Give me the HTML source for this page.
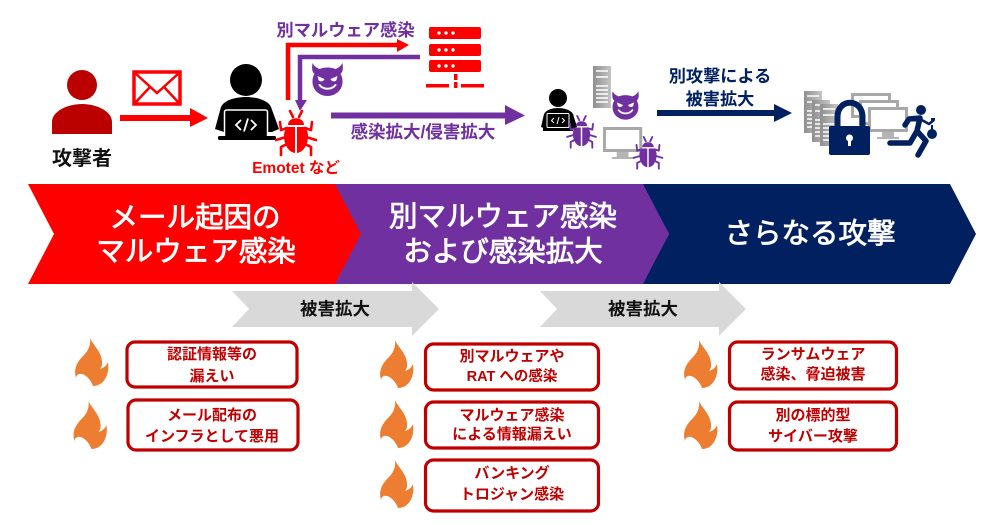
<!DOCTYPE html>
<html lang="ja"><head><meta charset="utf-8"><style>
html,body{margin:0;padding:0;background:#fff}
svg{display:block}
text{font-family:"Liberation Sans","Noto Sans CJK JP",sans-serif;font-weight:700;text-anchor:middle}
.ban text{font-weight:400;stroke:#fff;stroke-width:.8px}
</style></head><body>
<svg width="1000" height="525" viewBox="0 0 1000 525" xmlns="http://www.w3.org/2000/svg">
<defs>
<path id="flame" fill="#ed7d31" d="M15,0 C18,7 26,13 27,23 C27.500,27 26.500,29 25,31 C29,30 32,27 33,24 C35,36 29,48 18,48 C16,42 11,37 7,36 C4,35 1,37 1,40 C-2,30 3,23 9,17 C13,13 16,7 15,0Z"/>
<g id="bug">
<g fill="none" stroke="currentColor" stroke-width="2.600" stroke-linecap="round" stroke-linejoin="round">
<path d="M-6,-25 L-3,-19 M6,-25 L3,-19"/>
<path d="M-9,-8 L-15,-6 L-16,-14 M9,-8 L15,-6 L16,-14"/>
<path d="M-10,1 L-20,4 M10,1 L20,4"/>
<path d="M-9,8 L-15,11 L-15,19 M9,8 L15,11 L15,19"/>
</g>
<path fill="currentColor" d="M-8,-11 C-8,-20 8,-20 8,-11Z"/>
<path fill="currentColor" d="M-1,-9 L-1,17 C-8,16 -12,8 -12,0 C-12,-5 -10,-8 -8,-9Z M1,-9 L1,17 C8,16 12,8 12,0 C12,-5 10,-8 8,-9Z"/>
</g>
<g id="devil">
<path fill="#7030a0" d="M-15,-16 C-16,-9 -15,-7 -13,-5 C-15,-2 -15,1 -15,3 C-15,11 -8,17 0,17 C8,17 15,11 15,3 C15,1 15,-2 13,-5 C15,-7 16,-9 15,-16 C13,-12 10,-11 8,-10 C3,-12 -3,-12 -8,-10 C-10,-11 -13,-12 -15,-16Z"/>
<path fill="#fff" d="M-10,-3 L-3,0 C-4,3 -8,3 -9,1Z M10,-3 L3,0 C4,3 8,3 9,1Z"/>
<path fill="none" stroke="#fff" stroke-width="2" stroke-linecap="round" d="M-8,6 C-4,11 4,11 8,6"/>
</g>
<linearGradient id="g" x1="0" x2="1" y1="0" y2="0"><stop offset="0" stop-color="#8f8f8f"/><stop offset="1" stop-color="#c4c4c4"/></linearGradient>
<g id="tower">
<rect width="18" height="42" fill="url(#g)"/>
<path stroke="#fff" stroke-width="1.500" d="M3,5 H15 M3,11 H15 M3,20 H15 M3,24 H15 M3,28 H15 M3,32 H15 M3,36 H15"/>
</g>
<g id="mon">
<rect width="40" height="25" fill="#a8a8a8"/>
<rect x="3" y="3" width="34" height="19" fill="#fff"/>
<rect x="14" y="25" width="12" height="5" fill="#b5b5b5"/>
<rect x="9" y="30" width="22" height="2" fill="#b5b5b5"/>
</g>
</defs>

<!-- banner -->
<polygon fill="#ff0000" points="28,184 336,184 362,234 336,284 28,284 54,234"/>
<polygon fill="#7030a0" points="335,184 644,184 669,234 644,284 335,284 361,234"/>
<polygon fill="#002060" points="643,184 950,184 976,234 950,284 643,284 669,234"/>
<g class="ban" fill="#fff" font-size="28.500">
<text x="195" y="227">メール起因の</text>
<text x="196" y="261">マルウェア感染</text>
<text x="503" y="226">別マルウェア感染</text>
<text x="503" y="261">および感染拡大</text>
<text x="810" y="243">さらなる攻撃</text>
</g>

<!-- grey arrows -->
<polygon fill="#d9d9d9" points="232,291 412,291 412,282 439,309 412,336 412,327 232,327 249,309"/>
<polygon fill="#d9d9d9" points="540,291 719,291 719,282 746,309 719,336 719,327 540,327 557,309"/>
<g font-size="17.500" fill="#111"><text x="335" y="315">被害拡大</text><text x="643" y="315">被害拡大</text></g>

<!-- boxes -->
<g fill="#fff" stroke="#c00000" stroke-width="3.200">
<rect x="127" y="342" width="170" height="45" rx="8"/>
<rect x="128" y="400" width="170" height="50" rx="8"/>
<rect x="425.500" y="344" width="173" height="46" rx="8"/>
<rect x="425.500" y="402" width="173" height="46" rx="8"/>
<rect x="425.500" y="460" width="173" height="51" rx="8"/>
<rect x="729.500" y="342" width="167" height="47" rx="8"/>
<rect x="729.500" y="402" width="167" height="48" rx="8"/>
</g>
<g fill="#c00000" font-size="15">
<text x="212" y="359">認証情報等の</text><text x="212" y="381">漏えい</text>
<text x="212" y="420">メール配布の</text><text x="212" y="441">インフラとして悪用</text>
<text x="512" y="361">別マルウェアや</text><text x="512" y="381" font-size="14.500">RAT への感染</text>
<text x="512" y="420">マルウェア感染</text><text x="512" y="439">による情報漏えい</text>
<text x="512" y="478">バンキング</text><text x="512" y="499">トロジャン感染</text>
<text x="813" y="359">ランサムウェア</text><text x="813" y="379">感染、脅迫被害</text>
<text x="813" y="420">別の標的型</text><text x="813" y="441">サイバー攻撃</text>
</g>
<use href="#flame" x="75" y="338"/><use href="#flame" x="73.500" y="401"/>
<use href="#flame" x="380" y="340"/><use href="#flame" x="380" y="400"/><use href="#flame" x="380" y="460"/>
<use href="#flame" x="684" y="340"/><use href="#flame" x="684" y="401"/>

<!-- attacker -->
<circle cx="82" cy="85" r="15" fill="#bb0000"/>
<path fill="#bb0000" d="M52,134 V122 C52,111 68,104 82,104 C96,104 112,111 112,122 V134Z"/>
<text x="82" y="165" font-size="20" fill="#111">攻撃者</text>
<!-- envelope -->
<rect x="134" y="72" width="46" height="32" fill="#fff" stroke="#ff0000" stroke-width="3.500"/>
<path fill="none" stroke="#ff0000" stroke-width="2.500" d="M135,73 L157,93 L179,73 M135,103 L150,87 M179,103 L164,87"/>
<!-- red arrow -->
<rect x="120" y="115" width="72" height="6" fill="#ff0000"/>
<polygon fill="#ff0000" points="190,108 208,118 190,127"/>

<!-- hacker -->
<circle cx="246" cy="80" r="16" fill="#000"/>
<path fill="#000" d="M215,129 L221,107 C224,100 236,97 246,97 C256,97 268,100 271,107 L279,129 L272,132 L224,132Z"/>
<rect x="224.500" y="110" width="43" height="28" rx="2" fill="#000" stroke="#fff" stroke-width="1.500"/>
<rect x="218" y="136" width="58" height="4" rx="1.500" fill="#000"/>
<path fill="none" stroke="#fff" stroke-width="1.800" d="M241,120 L236,125 L241,130 M251,120 L256,125 L251,130 M248,118.500 L244,131.500"/>
<use href="#bug" x="296" y="136" color="#ff0000"/>
<text x="296" y="173" font-size="15.500" fill="#ff0000">Emotet など</text>

<!-- red up-right arrow -->
<path fill="none" stroke="#ff0000" stroke-width="4.500" d="M288,100 V45 H398"/>
<polygon fill="#ff0000" points="397,39 409,45 397,52"/>
<!-- purple down arrow -->
<path fill="none" stroke="#7030a0" stroke-width="4.500" d="M420,57 H300 V101"/>
<polygon fill="#7030a0" points="295,100 307,100 300,111"/>
<use href="#devil" x="327.500" y="79"/>
<text x="345.500" y="36" font-size="17.300" fill="#7030a0">別マルウェア感染</text>

<!-- server -->
<g fill="#ff0000">
<rect x="429" y="27" width="52" height="12" rx="2"/>
<rect x="429" y="44" width="52" height="12" rx="2"/>
<rect x="429" y="60" width="52" height="12" rx="2"/>
<rect x="454" y="74" width="3.500" height="6"/>
<rect x="426" y="84" width="23" height="3.500"/><rect x="454" y="82" width="3.500" height="6"/><rect x="461" y="84" width="23" height="3.500"/>
</g>
<g fill="#fff">
<circle cx="439" cy="33" r="1.700"/><circle cx="446" cy="33" r="1.700"/><circle cx="453" cy="33" r="1.700"/>
<circle cx="439" cy="50" r="1.700"/><circle cx="446" cy="50" r="1.700"/><circle cx="453" cy="50" r="1.700"/>
<circle cx="439" cy="66" r="1.700"/><circle cx="446" cy="66" r="1.700"/><circle cx="453" cy="66" r="1.700"/>
</g>

<!-- purple long arrow -->
<rect x="331" y="112.500" width="176" height="6" fill="#7030a0"/>
<polygon fill="#7030a0" points="505,105 525,115.500 505,125"/>
<text x="423" y="138" font-size="17.500" fill="#7030a0">感染拡大/侵害拡大</text>

<!-- mid group -->
<circle cx="558" cy="98" r="9" fill="#000"/>
<path fill="#000" d="M541,127 L544,114 C546,110 552,108 558,108 C564,108 571,110 573,114 L577,127 L572,129 L546,129Z"/>
<rect x="547" y="113.500" width="22" height="14" rx="1" fill="#000" stroke="#fff" stroke-width="1"/>
<rect x="543" y="128" width="30" height="3" fill="#000"/>
<path fill="none" stroke="#fff" stroke-width="1" d="M554,118 L551.500,120.500 L554,123 M562,118 L564.500,120.500 L562,123 M559,117 L557,124"/>
<use href="#tower" x="593" y="66"/>
<use href="#devil" transform="translate(625.500,105) scale(.86)"/>
<use href="#bug" transform="translate(581.500,134) scale(.72)" color="#7030a0"/>
<g transform="translate(603,127) scale(.98,1)"><use href="#mon"/></g>
<use href="#bug" transform="translate(648,155) scale(.72)" color="#7030a0"/>

<!-- navy arrow -->
<text x="720" y="82" font-size="17.200" fill="#002060">別攻撃による</text>
<text x="720" y="105" font-size="17.200" fill="#002060">被害拡大</text>
<rect x="657" y="110" width="119" height="6" fill="#002060"/>
<polygon fill="#002060" points="774,104 792,113 774,122"/>

<!-- right group -->
<use href="#tower" x="804" y="91"/><use href="#tower" x="812" y="100"/><use href="#tower" x="820" y="104"/>
<use href="#mon" x="851" y="93"/><use href="#mon" x="859" y="100"/><use href="#mon" x="868" y="107"/>
<path fill="none" stroke="#002060" stroke-width="6" d="M837.500,126 V117 C837.500,98 862.500,98 862.500,117 V126"/>
<rect x="829" y="126" width="41" height="29" rx="2" fill="#002060"/>
<circle cx="849.500" cy="138" r="3.500" fill="#fff"/><rect x="848" y="139" width="3" height="7" fill="#fff"/>
<circle cx="921" cy="110" r="5" fill="#002060"/>
<path fill="none" stroke="#002060" stroke-width="5.500" stroke-linecap="round" stroke-linejoin="round" d="M905,125 L909,119 L920,118 L917,131 L926,141 L918,155 M917,131 L910,143 L890,143"/>
<path fill="none" stroke="#002060" stroke-width="2.500" d="M920,119 L929,124 L934,120"/>
<circle cx="932" cy="134" r="5" fill="#002060"/><rect x="931" y="118" width="4" height="2.500" fill="#002060"/>
<path stroke="#002060" stroke-width="2" d="M932,125 V130"/>
</svg>
</body></html>
